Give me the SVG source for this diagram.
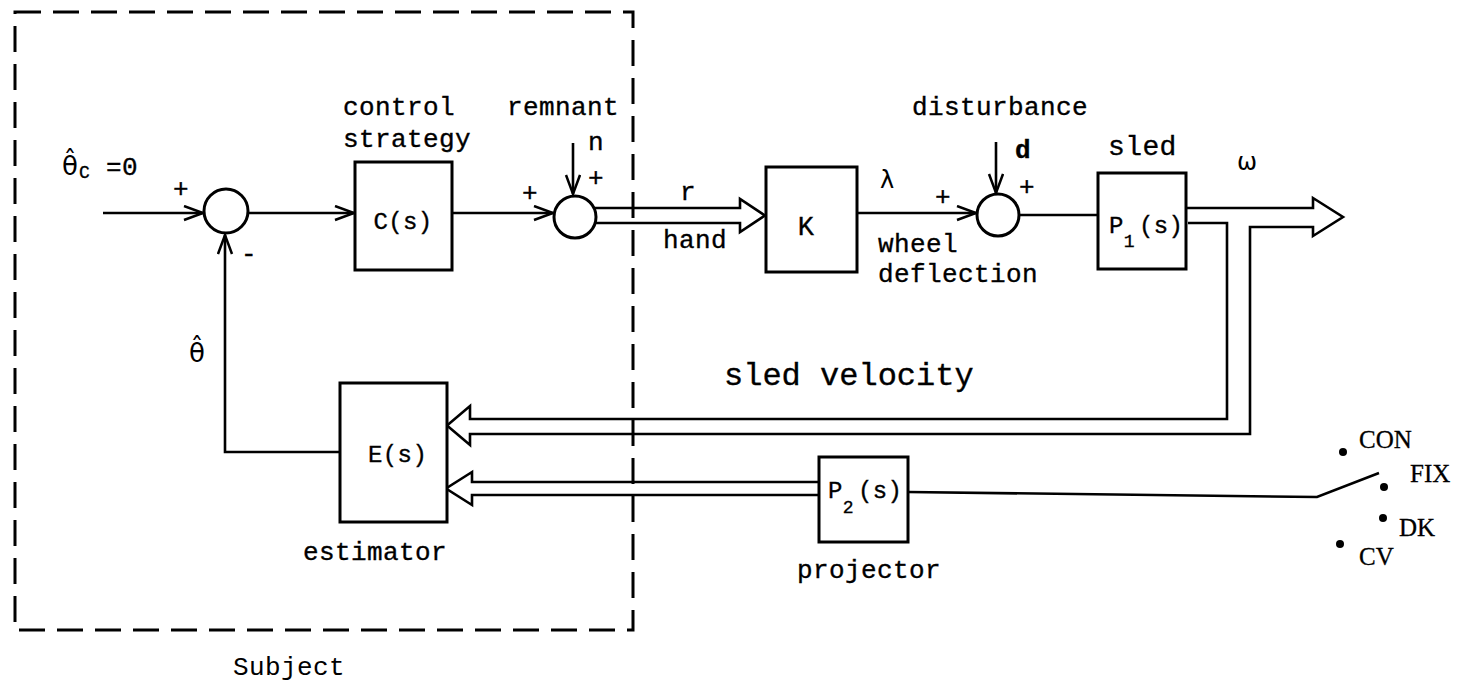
<svg xmlns="http://www.w3.org/2000/svg" width="1466" height="689" viewBox="0 0 1466 689">
<style>
.ln{stroke:#000;stroke-width:2.6;fill:none;stroke-linejoin:miter}
.bx{stroke:#000;stroke-width:3;fill:#fff}
.sum{stroke:#000;stroke-width:3;fill:#fff}
.dash{stroke:#000;stroke-width:3;fill:none;stroke-dasharray:26 12}
.t{font-family:"Liberation Mono","DejaVu Sans Mono",monospace;font-size:26px;letter-spacing:0.4px;fill:#000;stroke:#000;stroke-width:0.35}
.g{font-family:"DejaVu Sans","Liberation Sans",sans-serif;font-size:26px;fill:#000}
.sm{font-size:18px}
.s{font-family:"Liberation Serif","DejaVu Serif",serif;font-size:25px;fill:#000;stroke:#000;stroke-width:0.3}
.dot{fill:#000}
</style>
<defs>
<marker id="ah" markerUnits="userSpaceOnUse" markerWidth="24" markerHeight="18" refX="20" refY="8" orient="auto" viewBox="0 0 24 18">
<path d="M1,1 L20,8 L1,15" fill="none" stroke="#000" stroke-width="2.5"/>
</marker>
</defs>
<rect width="1466" height="689" fill="#fff"/>

<g id="subject-boundary">
<rect class="dash" x="15" y="12" width="618" height="618"/>
<text class="t" x="233" y="675" style="stroke-width:0">Subject</text>
</g>

<g id="connectors">
<path class="ln" d="M103,213 H203" marker-end="url(#ah)"/>
<path class="ln" d="M248,213 H354" marker-end="url(#ah)"/>
<path class="ln" d="M452,213 H553" marker-end="url(#ah)"/>
<path class="ln" d="M573,143 V194" marker-end="url(#ah)"/>
<path class="ln" d="M594,208 H740 V199 L765,215.5 L740,232 V223 H594"/>
<path class="ln" d="M857,213 H976" marker-end="url(#ah)"/>
<path class="ln" d="M996,142 V193" marker-end="url(#ah)"/>
<path class="ln" d="M1019,215 H1098"/>
<path class="ln" d="M1186,208 H1313 V198 L1343,217 L1313,236 V227 H1250 V434 H470 V445 L447,425.5 L470,406 V419 H1227 V223 H1188"/>
<path class="ln" d="M340,452 H225 V235" marker-end="url(#ah)"/>
<path class="ln" d="M819,482 H472 V472 L446,488.5 L472,505 V495 H819"/>
<path class="ln" d="M908,492 L1317,497 L1379,473"/>
</g>

<g id="input-label">
<text class="g" x="62" y="175">θ̂</text>
<text class="t sm" x="79" y="178">C</text>
<text class="t" x="106" y="175">=0</text>
<text class="t" x="173" y="197">+</text>
<text class="t" x="241" y="262">-</text>
</g>

<g id="sum1">
<circle class="sum" cx="226" cy="211" r="22"/>
</g>

<g id="theta-hat-label">
<text class="g" x="189" y="362">θ̂</text>
</g>

<g id="controller">
<text class="t" x="343" y="115">control</text>
<text class="t" x="343" y="147">strategy</text>
<rect class="bx" x="355" y="162" width="97" height="108"/>
<text class="t" x="403" y="229" text-anchor="middle" style="font-size:24px">C(s)</text>
</g>

<g id="sum2">
<circle class="sum" cx="575" cy="217" r="21"/>
<text class="t" x="507" y="115">remnant</text>
<text class="t" x="588" y="150">n</text>
<text class="t" x="588" y="186">+</text>
<text class="t" x="522" y="201">+</text>
<text class="t" x="680" y="200">r</text>
<text class="t" x="663" y="248">hand</text>
</g>

<g id="K">
<rect class="bx" x="766" y="167" width="91" height="105"/>
<text class="t" x="806" y="235" text-anchor="middle" style="font-size:27px">K</text>
<text class="g" x="880" y="188" style="font-size:24px">λ</text>
<text class="t" x="878" y="252">wheel</text>
<text class="t" x="878" y="282">deflection</text>
<text class="t" x="935" y="205">+</text>
</g>

<g id="sum3">
<circle class="sum" cx="998" cy="215" r="21"/>
<text class="t" x="912" y="115">disturbance</text>
<text class="t" x="1015" y="158" style="font-weight:bold">d</text>
<text class="t" x="1019" y="195">+</text>
</g>

<g id="P1">
<rect class="bx" x="1098" y="173" width="88" height="96"/>
<text class="t" x="1108" y="155" style="font-size:28px">sled</text>
<text class="t" x="1109" y="233" style="font-size:24px">P<tspan class="sm" dy="14">1</tspan><tspan dy="-14" dx="4">(s)</tspan></text>
<text class="g" x="1237" y="170" style="font-size:24px">ω</text>
</g>

<g id="feedback-label">
<text class="t" x="724" y="385" style="font-size:32px;letter-spacing:0px">sled velocity</text>
</g>

<g id="E">
<rect class="bx" x="340" y="383" width="107" height="139"/>
<text class="t" x="368" y="462" style="font-size:24px">E(s)</text>
<text class="t" x="303" y="560">estimator</text>
</g>

<g id="P2">
<rect class="bx" x="819" y="457" width="89" height="85"/>
<text class="t" x="828" y="498" style="font-size:24px">P<tspan class="sm" dy="15">2</tspan><tspan dy="-15" dx="4">(s)</tspan></text>
<text class="t" x="797" y="578">projector</text>
</g>

<g id="switch">
<circle class="dot" cx="1343" cy="452" r="4"/>
<circle class="dot" cx="1384" cy="487" r="4"/>
<circle class="dot" cx="1383" cy="518" r="4"/>
<circle class="dot" cx="1340" cy="544" r="4"/>
<text class="s" x="1359" y="448">CON</text>
<text class="s" x="1410" y="482">FIX</text>
<text class="s" x="1399" y="536">DK</text>
<text class="s" x="1359" y="565">CV</text>
</g>
</svg>
